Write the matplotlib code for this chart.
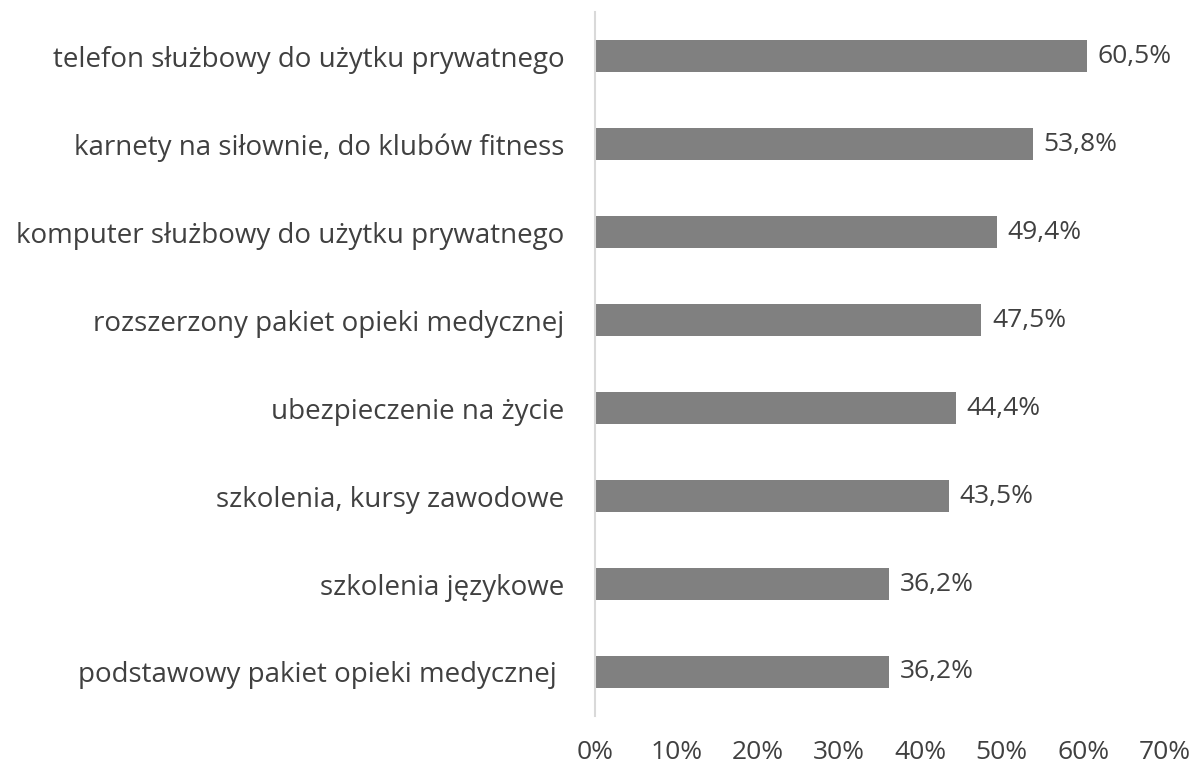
import matplotlib.pyplot as plt

categories = [
    "telefon służbowy do użytku prywatnego",
    "karnety na siłownie, do klubów fitness",
    "komputer służbowy do użytku prywatnego",
    "rozszerzony pakiet opieki medycznej",
    "ubezpieczenie na życie",
    "szkolenia, kursy zawodowe",
    "szkolenia językowe",
    "podstawowy pakiet opieki medycznej ",
]
values = [60.5, 53.8, 49.4, 47.5, 44.4, 43.5, 36.2, 36.2]
xticks = [0, 10, 20, 30, 40, 50, 60, 70]

plt.rcParams['font.family'] = ['Open Sans', 'DejaVu Sans']

fig = plt.figure(figsize=(11.92, 7.69), dpi=100)
ax = fig.add_axes([0.499, 0.069, 0.478, 0.915])

y = list(range(len(categories)))[::-1]
ax.barh(y, values, height=0.36, color='#808080')

for yi, v in zip(y, values):
    ax.text(v + 1.3, yi, f"{v:.1f}%".replace('.', ','), va='center', ha='left',
            fontsize=19, color='#404040')

ax.set_xlim(0, 70)
ax.set_ylim(-0.5, len(categories) - 0.5)
ax.set_yticks(y)
ax.set_yticklabels(categories, fontsize=20, color='#404040')
ax.set_xticks(xticks)
ax.set_xticklabels([f"{t}%" for t in xticks], fontsize=19, color='#404040')

for s in ['top', 'right', 'bottom']:
    ax.spines[s].set_visible(False)
ax.spines['left'].set_color('#d9d9d9')
ax.spines['left'].set_linewidth(1.5)
ax.tick_params(axis='both', length=0)
ax.tick_params(axis='y', pad=22)
ax.tick_params(axis='x', pad=17)

fig.savefig('out.png', dpi=100)
